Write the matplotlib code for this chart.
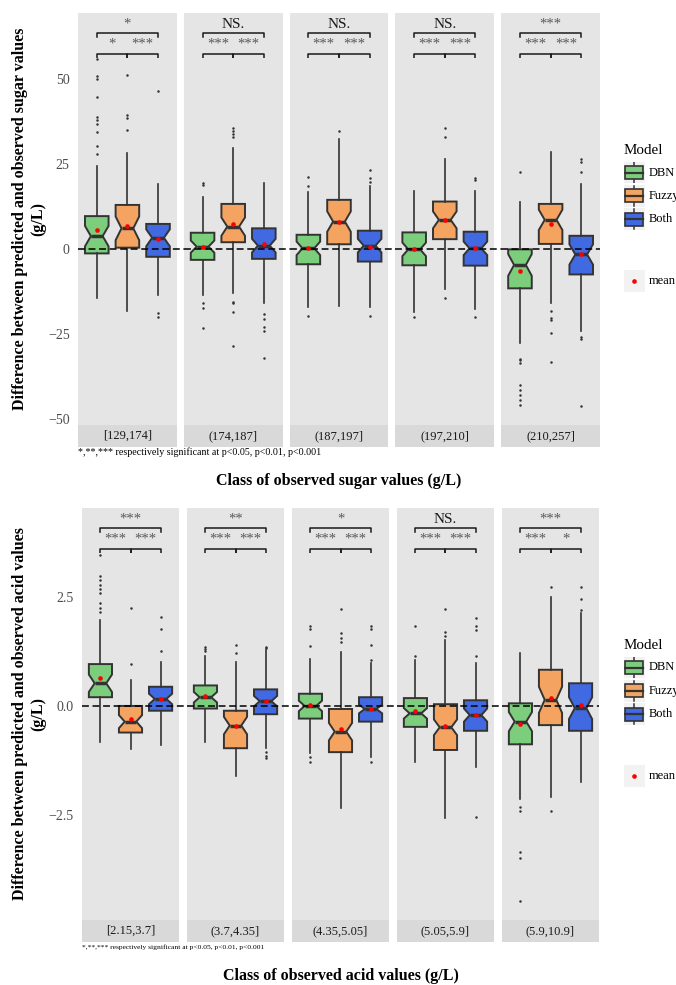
import matplotlib
matplotlib.use("Agg")
import matplotlib.pyplot as plt
from matplotlib.patches import Rectangle
from matplotlib.lines import Line2D

plt.rcParams['font.family'] = ['Liberation Serif', 'DejaVu Serif']

# ---------------------------------------------------------------- data
MODELS = ["DBN", "Fuzzy", "Both"]
COLORS = ['#7CCD7C', '#F4A460', '#4169E1']

# rows = DBN, Fuzzy, Both ; columns = classes
sugar_classes = ["[129,174]", "(174,187]", "(187,197]", "(197,210]", "(210,257]"]
sugar_q1 = [[-1.3, -3.2, -4.5, -4.8, -11.6],
            [0.4, 2.0, 1.4, 2.9, 1.5],
            [-2.3, -2.9, -3.7, -4.9, -7.5]]
sugar_med = [[3.8, 0.7, 0.2, -0.1, -4.7],
             [6.1, 6.6, 8.1, 8.6, 8.6],
             [3.3, 1.0, 1.0, 0.2, -1.6]]
sugar_q3 = [[9.7, 4.8, 4.2, 4.9, -0.1],
            [13.0, 13.3, 14.5, 14.0, 13.3],
            [7.4, 6.1, 5.4, 5.1, 3.9]]
sugar_lo = [[-14.4, -13.6, -17.0, -18.7, -27.8],
            [-18.2, -13.1, -16.8, -11.7, -15.8],
            [-13.6, -15.8, -17.0, -17.8, -24.1]]
sugar_hi = [[24.6, 15.4, 16.9, 17.2, 13.8],
            [28.2, 29.9, 32.4, 26.4, 28.6],
            [19.1, 19.6, 18.6, 17.2, 19.1]]
sugar_mean = [[5.6, 0.7, 0.2, -0.1, -6.4],
              [6.9, 7.3, 8.1, 8.6, 7.3],
              [2.9, 1.4, 0.7, 0.4, -1.6]]
sugar_notch = [[3.0, 1.8, 2.0, 2.0, 3.2],
               [3.5, 2.7, 3.0, 2.5, 3.0],
               [2.5, 2.0, 2.0, 2.0, 3.0]]
sugar_out = [
    [[56, 51, 50, 44.7, 39, 38, 37, 34.6, 30.5, 27.9], [19.6, 18.8, -16, -17.5, -23.4],
     [21.1, 18.7, -19.8], [-20.0],
     [22.7, -32.3, -32.7, -33.7, -40.1, -41.6, -43.1, -44.5, -46.0]],
    [[51.3, 39.5, 38.6, 35.1], [35.6, 34.8, 33.9, 32.9, -15.5, -16, -18.5, -28.5],
     [34.8], [35.6, 33.1, -14.3], [-18.2, -20.4, -20.9, -24.7, -33.4]],
    [[46.7, -19, -20.1], [-19.3, -20.7, -22.9, -24.1, -32.1], [23.3, 21.0, 19.7, -19.8],
     [21.0, 20.3, -20.0], [26.5, 25.6, 22.7, -26.0, -26.5, -46.2]],
]
sugar_sig_all = ["*", "NS.", "NS.", "NS.", "***"]
sugar_sig_pair = [["*", "***"], ["***", "***"], ["***", "***"], ["***", "***"], ["***", "***"]]
sugar_ylim = (-51.9, 69.6)
sugar_ticks = [-50, -25, 0, 25, 50]
sugar_ticklabels = ["\u221250", "\u221225", "0", "25", "50"]

acid_classes = ["[2.15,3.7]", "(3.7,4.35]", "(4.35,5.05]", "(5.05,5.9]", "(5.9,10.9]"]
acid_q1 = [[0.20, -0.06, -0.29, -0.48, -0.88],
           [-0.61, -0.97, -1.06, -1.01, -0.44],
           [-0.11, -0.19, -0.36, -0.57, -0.57]]
acid_med = [[0.52, 0.20, 0.0, -0.17, -0.36],
            [-0.36, -0.45, -0.59, -0.49, 0.14],
            [0.16, 0.11, -0.07, -0.21, -0.05]]
acid_q3 = [[0.96, 0.47, 0.28, 0.18, 0.06],
           [0.0, -0.11, -0.07, 0.04, 0.83],
           [0.44, 0.38, 0.20, 0.13, 0.52]]
acid_lo = [[-0.83, -0.83, -1.09, -1.28, -2.13],
           [-0.99, -1.60, -2.35, -2.56, -2.08],
           [-0.89, -0.97, -1.16, -1.39, -1.74]]
acid_hi = [[1.96, 1.15, 1.07, 1.06, 1.21],
           [0.60, 1.0, 1.23, 1.51, 2.49],
           [1.0, 1.28, 0.99, 0.98, 2.13]]
acid_mean = [[0.64, 0.22, 0.02, -0.11, -0.42],
             [-0.30, -0.45, -0.53, -0.45, 0.19],
             [0.16, 0.11, -0.07, -0.21, 0.02]]
acid_notch = [[0.2, 0.12, 0.12, 0.12, 0.22],
              [0.15, 0.2, 0.2, 0.18, 0.3],
              [0.12, 0.12, 0.1, 0.15, 0.25]]
acid_out = [
    [[3.46, 2.98, 2.88, 2.78, 2.68, 2.58, 2.35, 2.25, 2.15], [1.36, 1.30, 1.26],
     [1.83, 1.76, 1.38, -1.16, -1.28], [1.84, 1.15], [-2.31, -2.40, -3.34, -3.49, -4.47]],
    [[2.24, 0.96], [1.39, 1.21], [2.22, 1.68, 1.55, 1.47], [2.22, 1.70, 1.61], [2.72, -2.42]],
    [[2.03, 1.76, 1.26], [1.36, 1.32, -1.06, -1.14, -1.2], [1.83, 1.76, 1.40, 1.05, -1.28],
     [2.01, 1.83, 1.74, 1.15, -2.55], [2.72, 2.45, 2.19]],
]
acid_sig_all = ["***", "**", "*", "NS.", "***"]
acid_sig_pair = [["***", "***"], ["***", "***"], ["***", "***"], ["***", "***"], ["***", "*"]]
acid_ylim = (-4.91, 4.54)
acid_ticks = [-2.5, 0.0, 2.5]
acid_ticklabels = ["\u22122.5", "0.0", "2.5"]

FOOTNOTE = "*,**,*** respectively significant at p<0.05, p<0.01, p<0.001"

# ---------------------------------------------------------------- layout
W, H = 676, 985
fig = plt.figure(figsize=(W / 100, H / 100), dpi=100)
EDGE = '#333333'
PANEL_H, STRIP_H = 412, 22


def fbox(x0, y0, w, h):
    """pixel box (top-left origin) -> figure fraction rect"""
    return [x0 / W, 1 - (y0 + h) / H, w / W, h / H]


def draw_chart(classes, q1, med, q3, lo, hi, mean, notch, out, sig_all, sig_pair,
               ylim, ticks, ticklabels, ylabel, xlabel, left, right, top, gap, foot_fs):
    n = len(classes)
    pw = (right - left - gap * (n - 1)) / n
    pos = [1, 2, 3]
    for j in range(n):
        x0 = left + j * (pw + gap)
        ax = fig.add_axes(fbox(x0, top, pw, PANEL_H))
        ax.set_facecolor('#E5E5E5')
        for s in ax.spines.values():
            s.set_visible(False)
        stats = [dict(med=med[i][j], q1=q1[i][j], q3=q3[i][j],
                      whislo=lo[i][j], whishi=hi[i][j],
                      cilo=med[i][j] - notch[i][j], cihi=med[i][j] + notch[i][j],
                      fliers=out[i][j]) for i in range(3)]
        arts = ax.bxp(stats, positions=pos, widths=0.77, shownotches=True,
                      showcaps=False, patch_artist=True,
                      boxprops=dict(edgecolor=EDGE, linewidth=1.4),
                      medianprops=dict(color=EDGE, linewidth=2.5),
                      whiskerprops=dict(color=EDGE, linewidth=1.2),
                      flierprops=dict(marker='o', markersize=1.8,
                                      markerfacecolor=EDGE, markeredgecolor='none'))
        for patch, c in zip(arts['boxes'], COLORS):
            patch.set_facecolor(c)

        ext = 1 + gap / pw if j < n - 1 else 1
        ax.axhline(0, xmin=0, xmax=ext, color='black', lw=1.1,
                   ls=(0, (4.5, 2.4)), clip_on=False, zorder=4)
        ax.scatter(pos, [mean[i][j] for i in range(3)], s=11, color='red',
                   linewidths=0, zorder=5)

        # significance brackets
        tr = ax.get_xaxis_transform()
        yl, yu, tk = 0.90, 0.952, 0.010
        for (a, b), lab in zip([(1, 2), (2, 3)], sig_pair[j]):
            ax.plot([a, a, b, b], [yl - tk, yl, yl, yl - tk], transform=tr,
                    color='#1A1A1A', lw=1.1, solid_capstyle='butt')
            ax.text((a + b) / 2, 0.925, lab, transform=tr, ha='center', va='center',
                    fontsize=10.5, color='#595959')
        ax.plot([1, 1, 3, 3], [yu - tk, yu, yu, yu - tk], transform=tr,
                color='#1A1A1A', lw=1.1)
        lab = sig_all[j]
        if lab == "NS.":
            ax.text(2, 0.973, lab, transform=tr, ha='center', va='center',
                    fontsize=11, color='#1A1A1A')
        else:
            ax.text(2, 0.972, lab, transform=tr, ha='center', va='center',
                    fontsize=10.5, color='#595959')

        ax.set_xlim(0.387, 3.613)
        ax.set_ylim(*ylim)
        ax.set_xticks([])
        ax.set_yticks(ticks, labels=ticklabels)
        ax.tick_params(axis='y', length=0, pad=6, labelsize=10,
                       labelcolor='#4D4D4D', labelleft=(j == 0))

        # strip
        sax = fig.add_axes(fbox(x0, top + PANEL_H, pw, STRIP_H))
        sax.set_facecolor('#D9D9D9')
        sax.set_xticks([])
        sax.set_yticks([])
        for s in sax.spines.values():
            s.set_visible(False)
        sax.text(0.5, 0.5, classes[j], transform=sax.transAxes, ha='center',
                 va='center', fontsize=9, color='#1A1A1A')

    bottom = top + PANEL_H + STRIP_H
    fig.text(left / W, 1 - (bottom + 5) / H, FOOTNOTE, fontsize=foot_fs,
             ha='left', va='center')
    fig.text((left + right) / 2 / W, 1 - (bottom + 34) / H, xlabel,
             fontsize=11.5, fontweight='bold', ha='center', va='center')
    fig.text(29 / W, 1 - (top + PANEL_H / 2) / H, ylabel, rotation=90,
             fontsize=11.5, fontweight='bold', ha='center', va='center',
             multialignment='center', linespacing=1.15)
    draw_legend(top)


def draw_legend(top):
    lx, ks = 623.5, 21.7
    fig.text(lx / W, 1 - (top + 137.7) / H, "Model", fontsize=10.8,
             ha='left', va='center')
    centers = [top + 159.5 + i * 23.4 for i in range(3)] + [top + 268]
    for k, cy in enumerate(centers):
        lax = fig.add_axes(fbox(lx, cy - ks / 2, ks, ks))
        lax.set_facecolor('#F2F2F2')
        lax.set_xlim(0, 1)
        lax.set_ylim(0, 1)
        lax.set_xticks([])
        lax.set_yticks([])
        for s in lax.spines.values():
            s.set_visible(False)
        if k < 3:
            lax.add_line(Line2D([0.5, 0.5], [0.03, 0.97], color=EDGE, lw=1.1))
            lax.add_patch(Rectangle((0.09, 0.2), 0.82, 0.6, facecolor=COLORS[k],
                                    edgecolor=EDGE, lw=1.2, zorder=3))
            lax.add_line(Line2D([0.09, 0.91], [0.5, 0.5], color=EDGE, lw=1.6, zorder=4))
            label = MODELS[k]
        else:
            lax.scatter([0.5], [0.5], s=11, color='red', linewidths=0)
            label = "mean"
        fig.text(649 / W, 1 - cy / H, label, fontsize=9, ha='left', va='center')


draw_chart(sugar_classes, sugar_q1, sugar_med, sugar_q3, sugar_lo, sugar_hi,
           sugar_mean, sugar_notch, sugar_out, sugar_sig_all, sugar_sig_pair,
           sugar_ylim, sugar_ticks, sugar_ticklabels,
           "Difference between predicted and observed sugar values\n(g/L)",
           "Class of observed sugar values (g/L)",
           left=78, right=600, top=13, gap=7, foot_fs=7.2)

draw_chart(acid_classes, acid_q1, acid_med, acid_q3, acid_lo, acid_hi,
           acid_mean, acid_notch, acid_out, acid_sig_all, acid_sig_pair,
           acid_ylim, acid_ticks, acid_ticklabels,
           "Difference between predicted and observed acid values\n(g/L)",
           "Class of observed acid values (g/L)",
           left=82, right=599, top=508, gap=8, foot_fs=5.4)

fig.savefig("out.png", dpi=100)
